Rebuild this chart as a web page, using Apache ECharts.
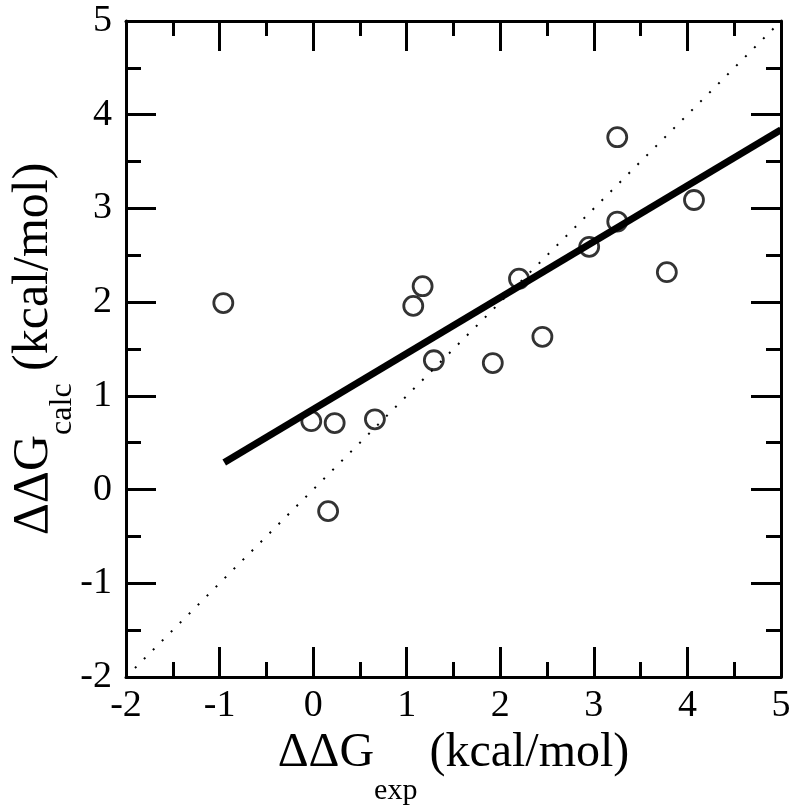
<!DOCTYPE html>
<html>
<head>
<meta charset="utf-8">
<script src="https://cdn.jsdelivr.net/npm/echarts@6/dist/echarts.min.js"></script>
<style>html,body{margin:0;padding:0;background:#fff;}#c{width:800px;height:809px;}</style>
</head>
<body>
<div id="c"></div>
<script>
// Data
var expVals  = [-0.96, -0.02, 0.23, 0.16, 0.66, 1.07, 1.17, 1.29, 1.92, 2.20, 2.45, 2.95, 3.25, 3.25, 3.78, 4.07];
var calcVals = [ 1.99,  0.73, 0.71,-0.23, 0.75, 1.96, 2.17, 1.38, 1.35, 2.25, 1.63, 2.59, 3.76, 2.86, 2.32, 3.09];
var fitX = [-0.95, 5];
var fitY = [0.29, 3.84];
var diagX = [-2, 5];
var diagY = [-2, 5];
var xTicks = [-2, -1, 0, 1, 2, 3, 4, 5];
var yTicks = [-2, -1, 0, 1, 2, 3, 4, 5];

var FONT = '"Liberation Serif", "Times New Roman", serif';
function pairs(xs, ys){ return xs.map(function(v,i){ return [v, ys[i]]; }); }

function axisBase(showLabel){
  return {
    type: 'value', min: -2, max: 5, interval: 1,
    axisLine: { show: true, onZero: false, lineStyle: { color: '#000', width: 3 } },
    axisTick: { show: true, inside: true, length: 30, lineStyle: { color: '#000', width: 3 } },
    minorTick: { show: true, splitNumber: 2, length: 15, lineStyle: { color: '#000', width: 3 } },
    splitLine: { show: false }, minorSplitLine: { show: false },
    axisLabel: { show: showLabel, color: '#000', fontFamily: FONT, fontSize: 38 }
  };
}

var xb = axisBase(true);
xb.position = 'bottom';
xb.axisLabel.margin = 10;
xb.name = '{a|ΔΔG}{b|exp}{a| (kcal/mol)}';
xb.nameLocation = 'middle';
xb.nameGap = 51;
xb.nameMoveOverlap = false;
xb.nameTextStyle = {
  color: '#000', fontFamily: FONT,
  rich: {
    a: { fontFamily: FONT, fontSize: 48, lineHeight: 50, color: '#000' },
    b: { fontFamily: FONT, fontSize: 30, lineHeight: 30, padding: [77, 0, 0, 0], color: '#000' }
  }
};
var xt = axisBase(false); xt.position = 'top';

var yl = axisBase(true);
yl.position = 'left';
yl.axisLabel.margin = 14;
yl.name = '{a|ΔΔG}{b|calc}{a| (kcal/mol)}';
yl.nameLocation = 'middle';
yl.nameGap = 64;
yl.nameMoveOverlap = false;
yl.nameTextStyle = {
  color: '#000', fontFamily: FONT,
  rich: {
    a: { fontFamily: FONT, fontSize: 50, lineHeight: 56, color: '#000' },
    b: { fontFamily: FONT, fontSize: 32, lineHeight: 32, padding: [57, 0, 0, 0], color: '#000' }
  }
};
var yr = axisBase(false); yr.position = 'right';

var chart = echarts.init(document.getElementById('c'), null, { renderer: 'canvas' });
chart.setOption({
  animation: false,
  backgroundColor: '#fff',
  grid: { left: 126, right: 19, top: 21, bottom: 132, containLabel: false, outerBoundsMode: 'none' },
  xAxis: [xb, xt],
  yAxis: [yl, yr],
  series: [
    {
      type: 'line', xAxisIndex: 0, yAxisIndex: 0, data: pairs(diagX, diagY),
      symbol: 'none', silent: true, z: 1,
      lineStyle: { color: '#000', width: 2, type: [2, 10.7], cap: 'butt' }
    },
    {
      type: 'scatter', xAxisIndex: 0, yAxisIndex: 0, data: pairs(expVals, calcVals),
      symbol: 'circle', symbolSize: 19, z: 2,
      itemStyle: { color: 'rgba(0,0,0,0)', borderColor: '#000', borderWidth: 2.8 }
    },
    {
      type: 'line', xAxisIndex: 0, yAxisIndex: 0, data: pairs(fitX, fitY),
      symbol: 'none', silent: true, z: 3,
      lineStyle: { color: '#000', width: 7, cap: 'butt' }
    }
  ]
});
</script>
</body>
</html>
